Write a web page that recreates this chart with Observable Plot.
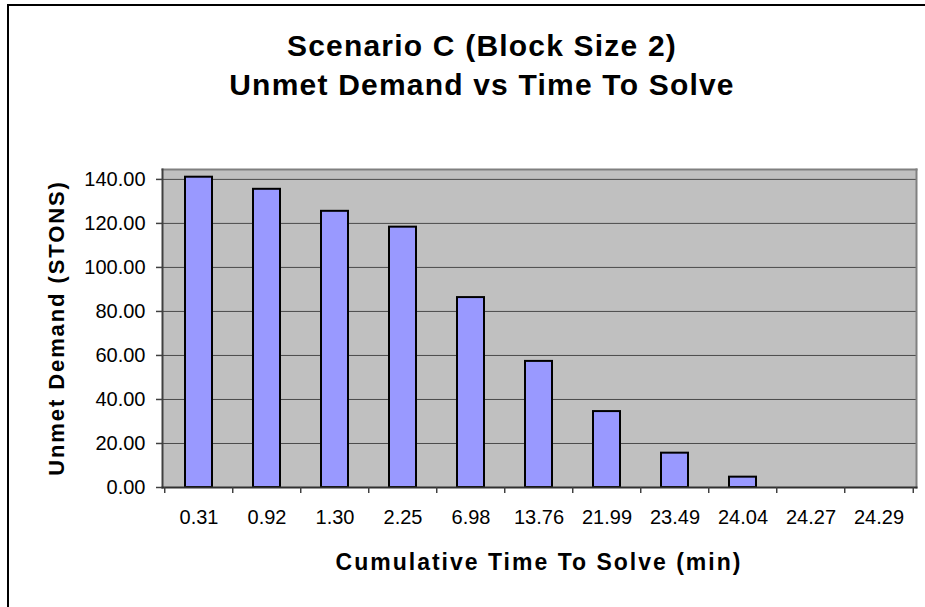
<!DOCTYPE html>
<html>
<head>
<meta charset="utf-8">
<script src="https://cdn.jsdelivr.net/npm/d3@7"></script>
<script src="https://cdn.jsdelivr.net/npm/@observablehq/plot@0.6"></script>
<style>
  html, body { margin: 0; padding: 0; background: #fff; }
  #wrap { position: relative; width: 925px; height: 607px; overflow: hidden; font-family: "Liberation Sans", Arial, sans-serif; }
  #border { position: absolute; left: 7px; top: 4px; width: 1000px; height: 1000px; border: 2px solid #000; box-sizing: border-box; }
  .title { position: absolute; left: 482px; transform: translateX(-50%); text-align: center; font-weight: bold; font-size: 30px; letter-spacing: 1.2px; color: #000; white-space: nowrap; }
  #xlabel { position: absolute; left: 539px; transform: translateX(-50%); top: 549px; font-weight: bold; font-size: 23px; letter-spacing: 2px; white-space: nowrap; }
  #ylabel { position: absolute; left: 57px; top: 328px; transform: translate(-50%, -50%) rotate(-90deg); font-weight: bold; font-size: 22px; letter-spacing: 1.9px; white-space: nowrap; }
  svg { position: absolute; left: 0; top: 0; }
</style>
</head>
<body>
<div id="wrap">
  <div id="border"></div>
  <div class="title" style="top:29px">Scenario C (Block Size 2)</div>
  <div class="title" style="top:68px">Unmet Demand vs Time To Solve</div>
  <div id="ylabel">Unmet Demand (STONS)</div>
  <div id="xlabel">Cumulative Time To Solve (min)</div>
</div>
<script>
const categories = ["0.31", "0.92", "1.30", "2.25", "6.98", "13.76", "21.99", "23.49", "24.04", "24.27", "24.29"];
const unmetDemand = [141.0, 135.5, 125.5, 118.3, 86.3, 57.3, 34.5, 15.6, 4.7, 0, 0];
const yTicks = [0, 20, 40, 60, 80, 100, 120, 140];

const data = categories.map((c, i) => ({cat: c, value: unmetDemand[i]}));

const W = 925, H = 607;
const mL = 162, mR = 9, mT = 169, mB = 120;
const plotW = W - mL - mR, plotH = H - mT - mB;
const step = plotW / categories.length;
const font = "Liberation Sans, Arial, sans-serif";

const chart = Plot.plot({
  width: W,
  height: H,
  marginLeft: mL, marginRight: mR, marginTop: mT, marginBottom: mB,
  style: {fontFamily: font, background: "transparent", color: "#000"},
  x: {domain: categories, paddingInner: 0.6, paddingOuter: 0.3, axis: null},
  y: {domain: [0, 144.5], axis: null},
  marks: [
    Plot.frame({fill: "#c0c0c0", stroke: null}),
    Plot.gridY(yTicks, {stroke: "#4a4a4a", strokeOpacity: 1, strokeWidth: 1}),
    Plot.frame({anchor: "top", stroke: "#808080", strokeWidth: 2}),
    Plot.frame({anchor: "right", stroke: "#808080", strokeWidth: 2}),
    Plot.barY(data, {x: "cat", y: "value", fill: "#9999ff", stroke: "#000", strokeWidth: 2}),
    Plot.frame({anchor: "left", stroke: "#404040", strokeWidth: 2}),
    Plot.frame({anchor: "bottom", stroke: "#303030", strokeWidth: 2}),
    Plot.axisY(yTicks, {tickFormat: d3.format(".2f"), tickSize: 6, tickPadding: 11, fontSize: 20, stroke: "#404040", strokeWidth: 1.5, label: null}),
    Plot.axisX({tickSize: 0, tickPadding: 22, fontSize: 20, label: null}),
    Plot.tickX(categories, {x: d => d, dx: -step / 2, insetTop: plotH, insetBottom: -6, stroke: "#404040", strokeWidth: 1.5}),
    Plot.tickX(categories.slice(-1), {x: d => d, dx: step / 2, insetTop: plotH, insetBottom: -6, stroke: "#404040", strokeWidth: 1.5})
  ]
});
document.getElementById("wrap").appendChild(chart);
</script>
</body>
</html>
